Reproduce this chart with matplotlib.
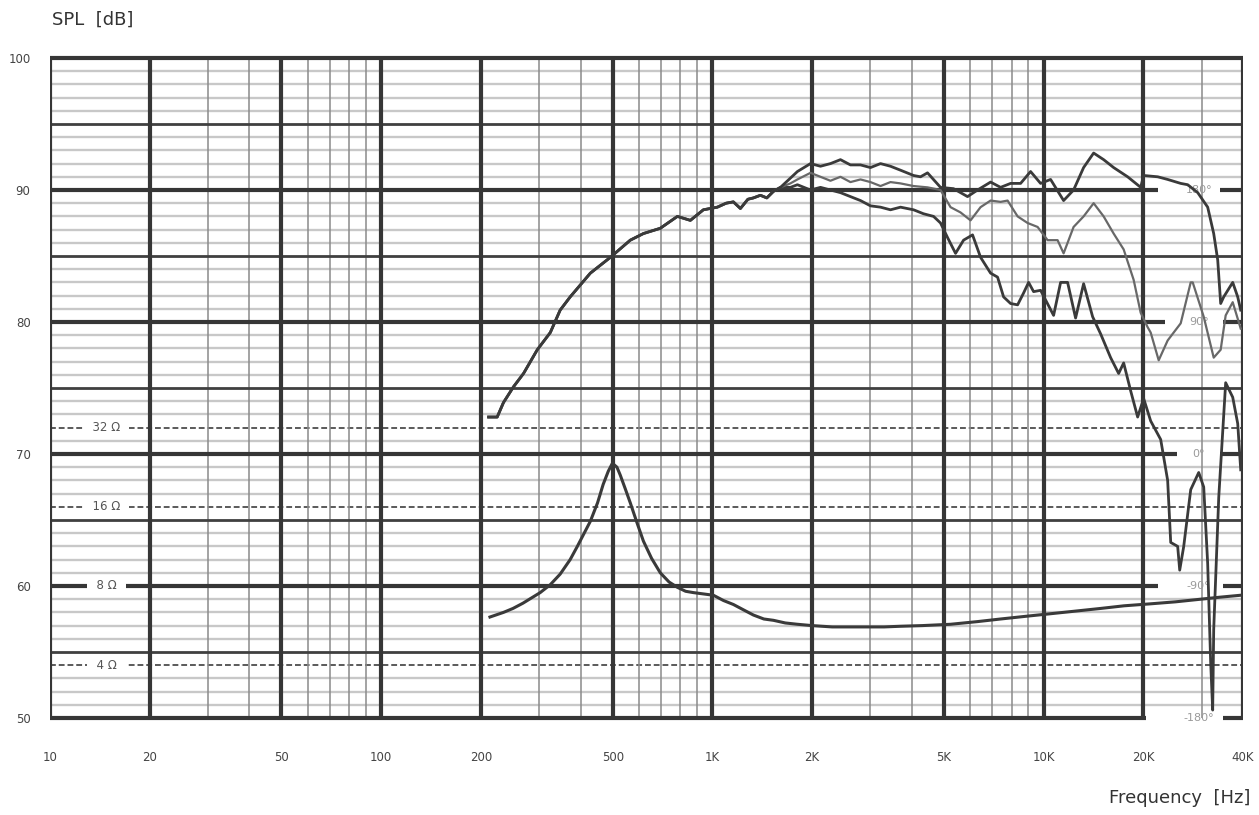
import matplotlib
matplotlib.use("Agg")
import matplotlib.pyplot as plt
import numpy as np

# ---------------- data ----------------
x_tick_values = [10, 20, 50, 100, 200, 500, 1000, 2000, 5000, 10000, 20000, 40000]
x_tick_labels = ["10", "20", "50", "100", "200", "500", "1K", "2K", "5K", "10K", "20K", "40K"]
y_tick_values = [50, 60, 70, 80, 90, 100]
y_tick_labels = ["50", "60", "70", "80", "90", "100"]

minor_freqs = [30, 40, 60, 70, 80, 90, 300, 400, 600, 700, 800, 900,
               3000, 4000, 6000, 7000, 8000, 9000, 30000]

impedance_labels = ["32 \u03a9", "16 \u03a9", "8 \u03a9", "4 \u03a9"]
impedance_label_db = [72, 66, 60, 54]
phase_labels = ["180\u00b0", "90\u00b0", "0\u00b0", "-90\u00b0", "-180\u00b0"]
phase_label_db = [90, 80, 70, 60, 50]

# shared low-frequency part of the SPL curves
common_freq = [211, 224, 234, 251, 269, 296, 324, 347, 372, 428, 492, 565,
               619, 696, 784, 858, 939, 1035, 1100, 1157, 1215, 1280, 1330,
               1396, 1460, 1529, 1605]
common_db = [72.8, 72.8, 73.9, 75.1, 76.1, 77.9, 79.2, 80.9, 81.9, 83.7, 84.9, 86.2,
             86.7, 87.1, 88.0, 87.7, 88.5, 88.7, 89.0, 89.1, 88.6, 89.3, 89.4,
             89.6, 89.4, 89.9, 90.2]

# on-axis curve (continuation)
spl_a_freq = [1720, 1806, 1978, 2120, 2272, 2436, 2611, 2800, 3001, 3218, 3449,
              3698, 4049, 4250, 4462, 4884, 5347, 5893, 6318, 6918, 7415, 7950,
              8522, 9135, 9793, 10498, 11492, 12318, 13207, 14160, 15180, 16274,
              17937, 19640, 20050, 22107, 23690, 25940, 27230, 29200, 31290,
              32630, 33550, 34250, 34980, 37240, 38560, 39370]
spl_a_db = [90.9, 91.4, 92.0, 91.8, 92.0, 92.3, 91.9, 91.9, 91.7, 92.0, 91.8,
            91.5, 91.1, 91.0, 91.3, 90.2, 90.1, 89.5, 90.0, 90.6, 90.2, 90.5,
            90.5, 91.4, 90.5, 90.8, 89.2, 90.0, 91.7, 92.8, 92.3, 91.7,
            91.0, 90.2, 91.1, 91.0, 90.8, 90.5, 90.4, 89.8, 88.7,
            86.7, 84.7, 81.4, 81.9, 83.0, 81.9, 80.9]

# moderate off-axis curve (continuation)
spl_b_freq = [1720, 1806, 1978, 2120, 2272, 2436, 2611, 2800, 3001, 3218, 3449,
              3698, 4049, 4462, 4884, 5236, 5613, 6018, 6452, 6918, 7415, 7785,
              8347, 8947, 9592, 10283, 11020, 11492, 12318, 13207, 14160, 15180,
              16274, 17446, 18700, 19640, 20620, 21055, 22260, 23690, 24700,
              25940, 27810, 28200, 30440, 32630, 34250, 35460, 37240, 39370]
spl_b_db = [90.5, 90.8, 91.3, 91.0, 90.7, 91.0, 90.6, 90.8, 90.6, 90.3, 90.6,
            90.5, 90.3, 90.2, 90.0, 88.7, 88.3, 87.7, 88.7, 89.2, 89.1, 89.2,
            88.0, 87.5, 87.2, 86.2, 86.2, 85.2, 87.2, 88.0, 89.0, 88.0,
            86.7, 85.5, 83.2, 80.7, 79.6, 79.2, 77.1, 78.6, 79.2,
            79.9, 83.0, 83.0, 80.4, 77.3, 77.9, 80.5, 81.5, 79.5]

# far off-axis curve (continuation)
spl_c_freq = [1720, 1806, 1978, 2120, 2272, 2436, 2611, 2800, 3001, 3218, 3449,
              3698, 4049, 4340, 4653, 4884, 5128, 5422, 5732, 6102, 6452, 6918,
              7261, 7572, 7950, 8347, 8702, 9010, 9328, 9793, 10720, 11255,
              11816, 12491, 13207, 14061, 14866, 15936, 16850, 17446, 18312,
              19230, 20050, 21055, 22570, 23690, 24200, 25400, 25760, 26490,
              27810, 29400, 30440, 31290, 31950, 32400, 32630, 33790, 35460,
              37240, 38560, 39370]
spl_c_db = [90.2, 90.4, 90.0, 90.2, 90.0, 89.8, 89.5, 89.2, 88.8, 88.7, 88.5,
            88.7, 88.5, 88.2, 88.0, 87.5, 86.4, 85.2, 86.2, 86.6, 84.9, 83.7,
            83.4, 81.9, 81.4, 81.3, 82.2, 83.0, 82.3, 82.4, 80.5, 83.0,
            83.0, 80.3, 82.9, 80.4, 79.1, 77.3, 76.1, 76.9, 74.8,
            72.8, 74.2, 72.5, 71.1, 68.0, 63.3, 63.0, 61.2, 63.0,
            67.3, 68.6, 67.5, 61.7, 54.2, 50.6, 56.7, 66.7, 75.4,
            74.3, 72.3, 68.8]

# impedance curve, drawn on the dB scale
imp_freq = [213, 234, 250, 268, 302, 324, 347, 372, 391, 428, 450, 468, 485,
            499, 515, 527, 545, 565, 590, 619, 655, 696, 740, 784, 830, 876,
            939, 1007, 1080, 1157, 1240, 1330, 1430, 1529, 1660, 1806, 2000,
            2300, 2800, 3300, 3698, 4300, 5236, 6300, 7415, 8800, 10498,
            12500, 14866, 17500, 21040, 25000, 29800, 34000, 39370]
imp_db = [57.65, 58.0, 58.3, 58.7, 59.5, 60.1, 60.9, 62.0, 63.0, 64.9, 66.3, 67.7, 68.7,
          69.3, 69.0, 68.4, 67.4, 66.3, 64.9, 63.4, 62.1, 61.0, 60.3, 59.9, 59.6, 59.5,
          59.4, 59.3, 58.9, 58.6, 58.2, 57.8, 57.5, 57.4, 57.2, 57.1, 57.0,
          56.9, 56.9, 56.9, 56.95, 57.0, 57.1, 57.3, 57.5, 57.7, 57.9,
          58.1, 58.3, 58.5, 58.65, 58.8, 59.0, 59.15, 59.3]

# ---------------- figure ----------------
W, H = 1259, 815
fig = plt.figure(figsize=(W / 100, H / 100), dpi=100)
fig.patch.set_facecolor("white")
ax = fig.add_axes([50 / W, 1 - 718 / H, (1243 - 50) / W, (718 - 58) / H])
ax.set_xscale("log")
ax.set_xlim(10, 40000)
ax.set_ylim(50, 100)
ax.set_facecolor("white")

narrow = ["Liberation Sans Narrow", "DejaVu Sans"]
dark = "#363636"

# 1 dB grid
for v in range(51, 100):
    if v % 5 == 0:
        continue
    if v in (72, 66, 54):
        ax.axhline(v, color="#5a5a5a", lw=1.4, ls=(0, (3, 1.5)), zorder=1.2)
    else:
        ax.axhline(v, color="#c8c8c8", lw=1.7, zorder=1)
# 5 dB lines
for v in (55, 65, 75, 85, 95):
    ax.axhline(v, color="#404040", lw=2.0, zorder=1.5)

# minor vertical lines
for f in minor_freqs:
    ax.axvline(f, color="#8a8a8a", lw=1.1, zorder=1.3)

# 10 dB lines, with gaps on the right for phase labels
gaps = {100: None, 90: (22100, 34200), 80: (23300, 34900), 70: (25200, 34200),
        60: (22100, 34900), 50: (20400, 34900)}
for v, g in gaps.items():
    if g is None:
        ax.hlines(v, 10, 40000, color=dark, lw=3.0, zorder=2, clip_on=False)
    else:
        ax.hlines(v, 10, g[0], color=dark, lw=3.0, zorder=2, clip_on=False)
        ax.hlines(v, g[1], 40000, color=dark, lw=3.0, zorder=2, clip_on=False)

# major vertical lines
for f in x_tick_values:
    ax.axvline(f, color=dark, lw=3.0, zorder=2)

for s in ax.spines.values():
    s.set_visible(False)

# impedance labels (left)
for lab, v in zip(impedance_labels, impedance_label_db):
    ax.text(14.8, v, "  " + lab + "  ", ha="center", va="center", fontsize=8.5,
            color="#555555", family=narrow, zorder=2.6,
            bbox=dict(facecolor="white", edgecolor="none", pad=1.2))

# phase labels (right)
for lab, v in zip(phase_labels, phase_label_db):
    ax.text(29400, v, lab, ha="center", va="center", fontsize=8, color="#9a9a9a",
            family=narrow, zorder=2.6)

# curves
ax.plot(common_freq + spl_a_freq, common_db + spl_a_db, color="#3a3a3a", lw=2.0, zorder=3.2)
ax.plot(common_freq + spl_b_freq, common_db + spl_b_db, color="#686868", lw=1.6, zorder=3.1)
ax.plot(common_freq + spl_c_freq, common_db + spl_c_db, color="#3a3a3a", lw=2.0, zorder=3.0)
ax.plot(imp_freq, imp_db, color="#3a3a3a", lw=2.2, zorder=3.0)

# ticks
ax.set_xticks(x_tick_values)
ax.set_xticklabels(x_tick_labels, family=narrow, fontsize=8.5, color="#444444")
ax.set_yticks(y_tick_values)
ax.set_yticklabels(y_tick_labels, family=narrow, fontsize=8.5, color="#444444")
ax.xaxis.set_minor_locator(matplotlib.ticker.NullLocator())
ax.tick_params(axis="x", length=0, pad=24)
ax.tick_params(axis="y", length=0, pad=14)

fig.text(52 / W, 1 - 20 / H, "SPL  [dB]", fontsize=13, color="#333333",
         ha="left", va="center")
fig.text(1250 / W, 1 - 798 / H, "Frequency  [Hz]", fontsize=13, color="#333333",
         ha="right", va="center")

fig.savefig("out.png", dpi=100, facecolor="white")
